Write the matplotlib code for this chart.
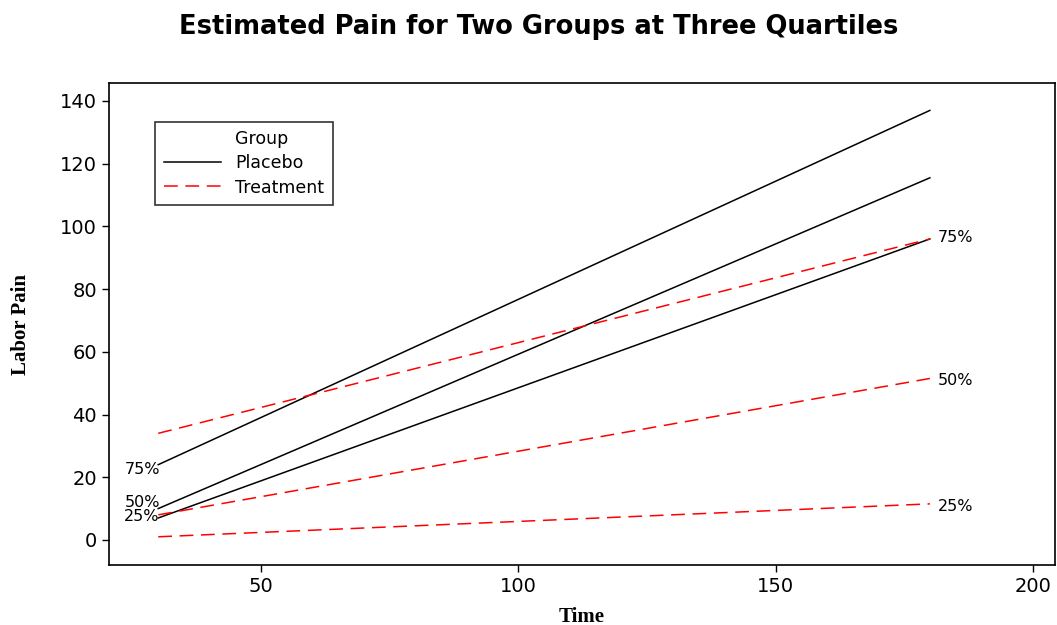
import numpy as np
import matplotlib.pyplot as plt
from matplotlib.lines import Line2D

# time range of the fitted quantile lines
time = [30, 180]
quartiles = ['25%', '50%', '75%']

# estimated pain at start / end of the time range
placebo = {'25%': [7, 96], '50%': [10, 115.5], '75%': [24, 137]}
treatment = {'25%': [1, 11.5], '50%': [8, 51.5], '75%': [34, 96]}

fig = plt.figure(figsize=(10.57, 6.25), dpi=100)
ax = fig.add_axes([0.103, 0.096, 0.895, 0.771])

for q in quartiles:
    ax.plot(time, placebo[q], color='black', lw=1.1)
    ax.plot(time, treatment[q], color='red', lw=1.1, dashes=(9, 5))

# quartile labels on the left (placebo) and right (treatment)
left_y = {'25%': 7.5, '50%': 12, '75%': 22.5}
for q in quartiles:
    ax.text(time[0] + 0.3, left_y[q], q, ha='right', va='center',
            fontsize=11.5, family='DejaVu Sans')
right_y = {'25%': 10.5, '50%': 51, '75%': 96.5}
for q in quartiles:
    ax.text(time[1] + 1.5, right_y[q], q, ha='left', va='center',
            fontsize=11.5, family='DejaVu Sans')

ax.set_xlim(20.4, 204.3)
ax.set_ylim(-8, 145.7)
ax.set_xticks([50, 100, 150, 200])
ax.set_yticks(np.arange(0, 141, 20))
ax.tick_params(labelsize=14, direction='out', length=5, width=1)
for s in ax.spines.values():
    s.set_linewidth(1.2)

ax.set_xlabel('Time', family='Liberation Serif', fontweight='bold', fontsize=15, labelpad=8)
ax.set_ylabel('Labor Pain', family='Liberation Serif', fontweight='bold', fontsize=15, labelpad=21)

fig.suptitle('Estimated Pain for Two Groups at Three Quartiles', x=0.51, y=0.978,
             fontsize=18.5, fontweight='bold', family='DejaVu Sans')

handles = [Line2D([], [], color='none'),
           Line2D([], [], color='black', lw=1.1),
           Line2D([], [], color='red', lw=1.1, dashes=(9, 5))]
leg = ax.legend(handles, ['Group', 'Placebo', 'Treatment'], loc='upper left',
                bbox_to_anchor=(0.04, 0.938), fontsize=12.5,
                frameon=True, fancybox=False, edgecolor='black', handlelength=3.3,
                borderpad=0.5, labelspacing=0.35, handletextpad=0.8)
leg.get_frame().set_linewidth(1.2)

fig.savefig('out.png', dpi=100)
